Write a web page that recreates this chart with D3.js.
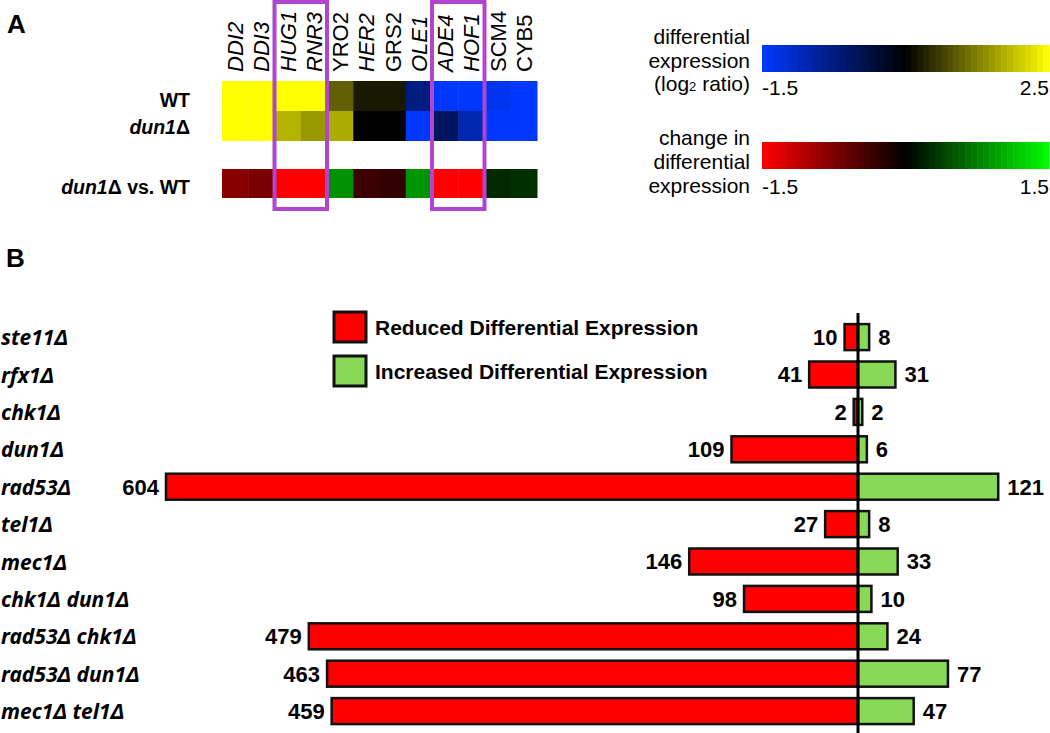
<!DOCTYPE html>
<html>
<head>
<meta charset="utf-8">
<script src="https://cdn.jsdelivr.net/npm/d3@7"></script>
<style>
	body { margin: 0; background: #fff; }
	svg { display: block; font-family: "Liberation Sans", Arial, sans-serif; }
</style>
</head>
<body>
<div class="container"></div>
<script>
	"use strict";

	// panel A data
	var aGenes = ["DDI2", "DDI3", "HUG1", "RNR3", "YRO2", "HER2", "GRS2", "OLE1", "ADE4", "HOF1", "SCM4", "CYB5"];
	var aGeneItalic = [true, true, true, true, false, true, false, true, true, true, false, false];
	var aWT = [2.5, 2.5, 2.5, 2.5, 1.25, 0.7, 0.7, -0.5, -1.5, -1.5, -1.35, -1.5];
	var aDun1 = [2.5, 2.5, 1.9, 1.7, 1.85, 0.5, 0.5, -1.5, -0.25, -0.88, -1.5, -1.5];
	var aChange = [-0.8, -0.72, -1.5, -1.5, 0.85, -0.35, -0.3, 0.87, -1.5, -1.5, 0.24, 0.28];
	var aBoxed = [["HUG1", "RNR3"], ["ADE4", "HOF1"]];

	// panel B data
	var aStrains = ["ste11Δ", "rfx1Δ", "chk1Δ", "dun1Δ", "rad53Δ", "tel1Δ", "mec1Δ",
		"chk1Δ dun1Δ", "rad53Δ chk1Δ", "rad53Δ dun1Δ", "mec1Δ tel1Δ"];
	var aReduced = [10, 41, 2, 109, 604, 27, 146, 98, 479, 463, 459];
	var aIncreased = [8, 31, 2, 6, 121, 8, 33, 10, 24, 77, 47];
	var aLegend = ["Reduced Differential Expression", "Increased Differential Expression"];

	var iWidth = 1050, iHeight = 733;
	var sRed = "#ff0000", sGreen = "#88d957";

	var oSVG = d3.select(".container").append("svg")
		.attr("width", iWidth)
		.attr("height", iHeight);

	// ---------- panel A ----------
	var exprColor = d3.scaleLinear().domain([-1.5, 0.5, 2.5]).range(["#0038ff", "#000000", "#ffff00"]);
	var changeColor = d3.scaleLinear().domain([-1.5, 0, 1.5]).range(["#ff0000", "#000000", "#00ff00"]);

	var x = d3.scaleBand().domain(aGenes).range([222, 537]);

	oSVG.append("text").attr("x", 7).attr("y", 33).text("A")
		.style("font-size", "26px").style("font-weight", "bold");

	var rows = [
		{ values: aWT, y0: 81, y1: 111, color: exprColor },
		{ values: aDun1, y0: 111, y1: 141, color: exprColor },
		{ values: aChange, y0: 169, y1: 198, color: changeColor }
	];

	rows.forEach(function(row) {
		oSVG.append("g").selectAll("rect")
			.data(aGenes)
			.enter()
			.append("rect")
			.attr("x", function(d) { return x(d); })
			.attr("y", row.y0)
			.attr("width", x.bandwidth() + 0.5)
			.attr("height", row.y1 - row.y0)
			.attr("fill", function(d, i) { return row.color(row.values[i]); });
	});

	// gene names
	oSVG.append("g").selectAll("text")
		.data(aGenes)
		.enter()
		.append("text")
		.attr("transform", function(d) {
			return "translate(" + (x(d) + x.bandwidth() / 2 + 8) + ",72) rotate(-90)";
		})
		.style("font-size", "22px")
		.style("font-style", function(d, i) { return aGeneItalic[i] ? "italic" : "normal"; })
		.text(function(d) { return d; });

	// row labels
	var rowLabels = oSVG.append("g")
		.attr("text-anchor", "end")
		.style("font-size", "19.5px")
		.style("font-weight", "bold");
	rowLabels.append("text").attr("x", 190).attr("y", 107).text("WT");
	var t = rowLabels.append("text").attr("x", 190).attr("y", 134);
	t.append("tspan").style("font-style", "italic").text("dun1");
	t.append("tspan").text("Δ");
	t = rowLabels.append("text").attr("x", 190).attr("y", 194);
	t.append("tspan").style("font-style", "italic").text("dun1");
	t.append("tspan").text("Δ vs. WT");

	// purple boxes
	oSVG.append("g").selectAll("rect")
		.data(aBoxed)
		.enter()
		.append("rect")
		.attr("x", function(d) { return x(d[0]); })
		.attr("y", 2)
		.attr("width", function(d) { return x(d[1]) + x.bandwidth() - x(d[0]); })
		.attr("height", 207)
		.attr("fill", "none")
		.attr("stroke", "#b045d0")
		.attr("stroke-width", 4);

	// colour keys
	function drawKey(scale, y0, aLines, aBaselines, sMin, sMax, yTicks) {
		var kx = d3.scaleLinear().domain(d3.extent(scale.domain())).range([762, 1049]);
		var steps = d3.range(48).map(function(i) {
			return kx.domain()[0] + (kx.domain()[1] - kx.domain()[0]) * i / 48;
		});
		var dw = (kx.range()[1] - kx.range()[0]) / 48;
		oSVG.append("g").selectAll("rect")
			.data(steps)
			.enter()
			.append("rect")
			.attr("x", function(d) { return kx(d); })
			.attr("y", y0)
			.attr("width", dw + 0.6)
			.attr("height", 27)
			.attr("fill", function(d) { return scale(d + (kx.domain()[1] - kx.domain()[0]) / 96); });

		var g = oSVG.append("g").style("font-size", "21px");
		aLines.forEach(function(line, i) {
			var txt = g.append("text").attr("x", 750).attr("y", aBaselines[i]).attr("text-anchor", "end");
			if (line === "(log2 ratio)") {
				txt.append("tspan").text("(log");
				txt.append("tspan").style("font-size", "13px").text("2");
				txt.append("tspan").text(" ratio)");
			} else {
				txt.text(line);
			}
		});
		g.append("text").attr("x", 762).attr("y", yTicks).text(sMin);
		g.append("text").attr("x", 1049).attr("y", yTicks).attr("text-anchor", "end").text(sMax);
	}
	drawKey(exprColor, 45, ["differential", "expression", "(log2 ratio)"], [44, 68, 91], "-1.5", "2.5", 95);
	drawKey(changeColor, 142, ["change in", "differential", "expression"], [145, 169, 193], "-1.5", "1.5", 194);

	// ---------- panel B ----------
	oSVG.append("text").attr("x", 6).attr("y", 267).text("B")
		.style("font-size", "26px").style("font-weight", "bold");

	var y = d3.scaleBand().domain(aStrains).range([318.4, 729.8]).paddingInner(0.305).paddingOuter(0.1525);
	var xLen = d3.scaleLinear().domain([0, 604]).range([2, 692]);
	var xMid = 858;

	var bars = oSVG.append("g")
		.selectAll("g")
		.data(aStrains)
		.enter()
		.append("g")
		.attr("transform", function(d) { return "translate(0," + y(d) + ")"; });

	bars.append("rect")
		.attr("x", function(d, i) { return xMid - xLen(aReduced[i]); })
		.attr("width", function(d, i) { return xLen(aReduced[i]); })
		.attr("height", y.bandwidth())
		.attr("fill", sRed)
		.attr("stroke", "#111")
		.attr("stroke-width", 2.5);

	bars.append("rect")
		.attr("x", xMid)
		.attr("width", function(d, i) { return xLen(aIncreased[i]); })
		.attr("height", y.bandwidth())
		.attr("fill", sGreen)
		.attr("stroke", "#111")
		.attr("stroke-width", 2.5);

	bars.append("text")
		.attr("x", function(d, i) { return xMid - xLen(aReduced[i]) - 7; })
		.attr("y", y.bandwidth() / 2 + 8)
		.attr("text-anchor", "end")
		.style("font-size", "22px")
		.style("font-weight", "bold")
		.text(function(d, i) { return aReduced[i]; });

	bars.append("text")
		.attr("x", function(d, i) { return xMid + xLen(aIncreased[i]) + 9; })
		.attr("y", y.bandwidth() / 2 + 8)
		.style("font-size", "22px")
		.style("font-weight", "bold")
		.text(function(d, i) { return aIncreased[i]; });

	// strain names
	bars.append("text")
		.attr("x", 1)
		.attr("y", y.bandwidth() / 2 + 8)
		.style("font-family", "'Noto Sans', sans-serif")
		.style("font-size", "21px")
		.style("font-weight", "bold")
		.style("font-style", "italic")
		.text(function(d) { return d; });

	// centre line
	oSVG.append("line")
		.attr("x1", xMid).attr("x2", xMid)
		.attr("y1", 313).attr("y2", iHeight)
		.attr("stroke", "#000")
		.attr("stroke-width", 3);

	// legend
	var legend = oSVG.append("g").selectAll("g")
		.data(aLegend)
		.enter()
		.append("g")
		.attr("transform", function(d, i) { return "translate(334," + (312 + i * 44) + ")"; });
	legend.append("rect")
		.attr("width", 32).attr("height", 30)
		.attr("fill", function(d, i) { return i === 0 ? sRed : sGreen; })
		.attr("stroke", "#111")
		.attr("stroke-width", 3);
	legend.append("text")
		.attr("x", 41).attr("y", 23)
		.style("font-size", "21px")
		.style("font-weight", "bold")
		.text(function(d) { return d; });
</script>
</body>
</html>
